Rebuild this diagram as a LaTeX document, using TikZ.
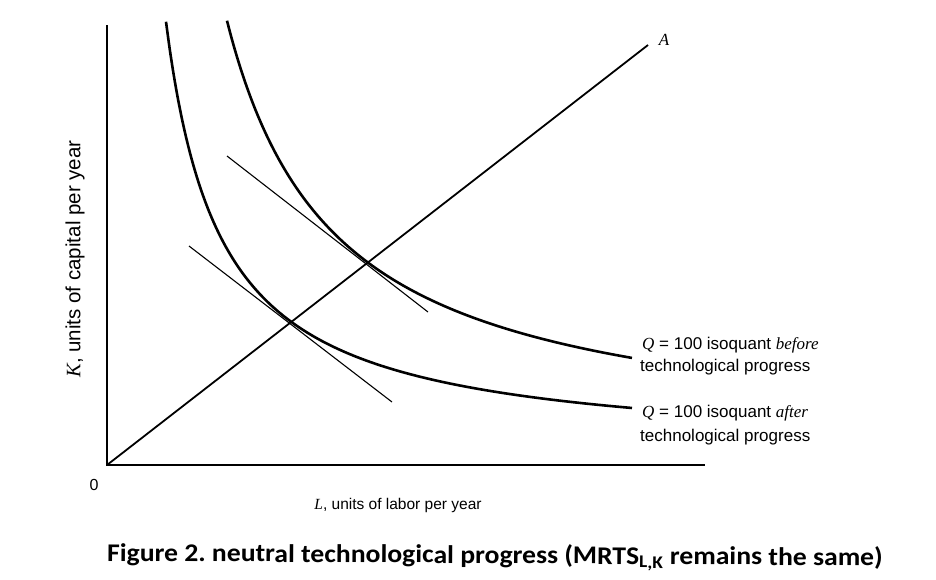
\documentclass[tikz,border=0pt]{standalone}
\usepackage{fontspec}
\setmainfont{Liberation Serif}
\setsansfont{Liberation Sans}
\newfontfamily\capfont{Carlito}
\newcommand{\sit}[1]{{\rmfamily\itshape #1}}
\frenchspacing
\begin{document}
\begin{tikzpicture}[x=1pt,y=-1pt,
  axis/.style={line width=2pt},
  ray/.style={line width=1.8pt},
  isocurve/.style={line width=2.6pt},
  tangline/.style={line width=1.1pt},
  lbl/.style={font=\sffamily\fontsize{17}{20}\selectfont, inner sep=0pt, anchor=base west},
]
\useasboundingbox (0,0) rectangle (936,579);
% axes
\coordinate (O) at (107,465);
\coordinate (Ytop) at (107,25);
\coordinate (Xend) at (705,465);
\draw[axis] (Ytop) -- (O) -- (Xend);
% ray A
\coordinate (Aend) at (648,45);
\draw[ray] (O) -- (Aend);
\node[font=\rmfamily\itshape\fontsize{17}{18}\selectfont, inner sep=0pt] (Alab) at (664,40) {A};
% isoquants
\draw[isocurve] plot[domain=120:525, samples=120, smooth] ({107+\x},{447.8-460.77/(0.01*\x-0.1205)});
\draw[isocurve] plot[domain=59:525, samples=120, smooth] ({107+\x},{453.53-237.17/(0.01*\x-0.0404)});
% tangents
\coordinate (T1a) at (227,156);
\coordinate (T1b) at (428,312);
\coordinate (T2a) at (189,246);
\coordinate (T2b) at (392,402);
\draw[tangline] (T1a) -- (T1b);
\draw[tangline] (T2a) -- (T2b);
% labels
\node[lbl] (before1) at (642,349) {\sit{Q} = 100 isoquant \sit{before}};
\node[lbl] (before2) at (640,371) {technological progress};
\node[lbl] (after1) at (642,417) {\sit{Q} = 100 isoquant \sit{after}};
\node[lbl] (after2) at (640,441) {technological progress};
\node[font=\sffamily\fontsize{16}{18}\selectfont, inner sep=0pt] (zero) at (94,485) {0};
\node[font=\sffamily\fontsize{15.5}{18}\selectfont, inner sep=0pt] (xlab) at (398,505) {\sit{L}, units of labor per year};
\node[font=\sffamily\fontsize{20.5}{24}\selectfont, inner sep=0pt, rotate=90] (ylab) at (75,259) {\sit{K}, units of capital per year};
\node[font=\capfont\bfseries\fontsize{25.5}{28}\selectfont, inner sep=0pt, anchor=base west, rotate=-0.35] (cap) at (107,561) {\scalebox{1.085}[1]{Figure 2. neutral technological progress (MRTS\textsubscript{L,K} remains the same)}};
\end{tikzpicture}
\end{document}
